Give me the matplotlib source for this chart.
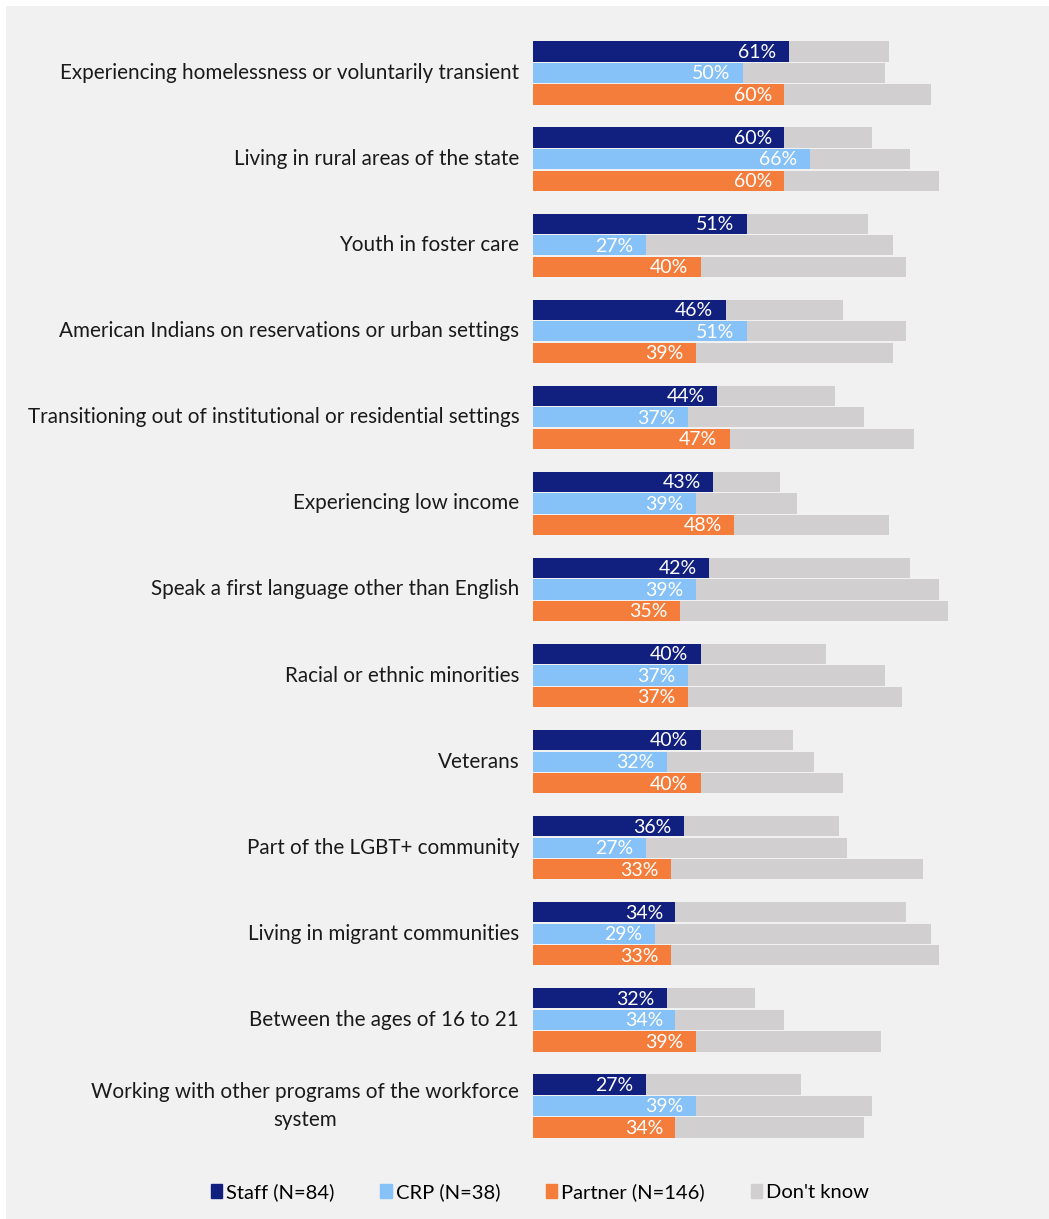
import numpy as np
import matplotlib.pyplot as plt
from matplotlib.patches import Rectangle, Patch

categories = [
    "Experiencing homelessness or voluntarily transient",
    "Living in rural areas of the state",
    "Youth in foster care",
    "American Indians on reservations or urban settings",
    "Transitioning out of institutional or residential settings",
    "Experiencing low income",
    "Speak a first language other than English",
    "Racial or ethnic minorities",
    "Veterans",
    "Part of the LGBT+ community",
    "Living in migrant communities",
    "Between the ages of 16 to 21",
    "Working with other programs of the workforce\nsystem",
]

staff = [61, 60, 51, 46, 44, 43, 42, 40, 40, 36, 34, 32, 27]
crp = [50, 66, 27, 51, 37, 39, 39, 37, 32, 27, 29, 34, 39]
partner = [60, 60, 40, 39, 47, 48, 35, 37, 40, 33, 33, 39, 34]

staff_dk = [24, 21, 29, 28, 28, 16, 48, 30, 22, 37, 55, 21, 37]
crp_dk = [34, 24, 59, 38, 42, 24, 58, 47, 35, 48, 66, 26, 42]
partner_dk = [35, 37, 49, 47, 44, 37, 64, 51, 34, 60, 64, 44, 45]

series = ["Staff (N=84)", "CRP (N=38)", "Partner (N=146)"]
colors = ["#111f7e", "#86c1f7", "#f57d3c"]
dk_color = "#d1cfd0"
bg = "#f1f1f1"

plt.rcParams['font.family'] = ['Lato', 'DejaVu Sans']

W, H = 1049, 1219
fig = plt.figure(figsize=(W / 100, H / 100), dpi=100)
fig.patch.set_facecolor("white")
fig.add_artist(Rectangle((6 / W, 0), 1 - 6 / W, 1 - 6 / H, transform=fig.transFigure,
                         facecolor=bg, edgecolor="none", zorder=-10))

# axes placed in pixel units
ax = fig.add_axes([533 / W, 1 - 1149 / H, 419 / W, 1119 / H])
ax.set_facecolor("none")
ax.set_xlim(0, 100)
ax.set_ylim(12.5, -0.5)

y = np.arange(len(categories))
offsets = [-0.25, 0, 0.25]
h = 0.235
data = [staff, crp, partner]
dks = [staff_dk, crp_dk, partner_dk]

for k in range(3):
    yy = y + offsets[k]
    ax.barh(yy, data[k], height=h, color=colors[k], edgecolor="none")
    ax.barh(yy, dks[k], left=data[k], height=h, color=dk_color, edgecolor="none")
    for yi, v in zip(yy, data[k]):
        ax.text(v - 3.0, yi + 0.01, f"{v}%", ha="right", va="center",
                color="white", fontsize=14)

for yi, lab in zip(y, categories):
    ax.text(-3.3, yi, lab, ha="right", va="center", fontsize=14.9,
            color="#1a1a1a", multialignment="center", linespacing=1.45)

ax.axis("off")

handles = [Patch(color=c) for c in colors] + [Patch(color=dk_color)]
labels = series + ["Don't know"]
fig.legend(handles, labels, loc="center", bbox_to_anchor=(540 / W, 1 - 1192 / H),
           ncol=4, frameon=False, fontsize=14.5, handlelength=0.55, handleheight=0.75,
           handletextpad=0.2, columnspacing=2.3)

plt.savefig("out.png", dpi=100, facecolor=fig.get_facecolor())
